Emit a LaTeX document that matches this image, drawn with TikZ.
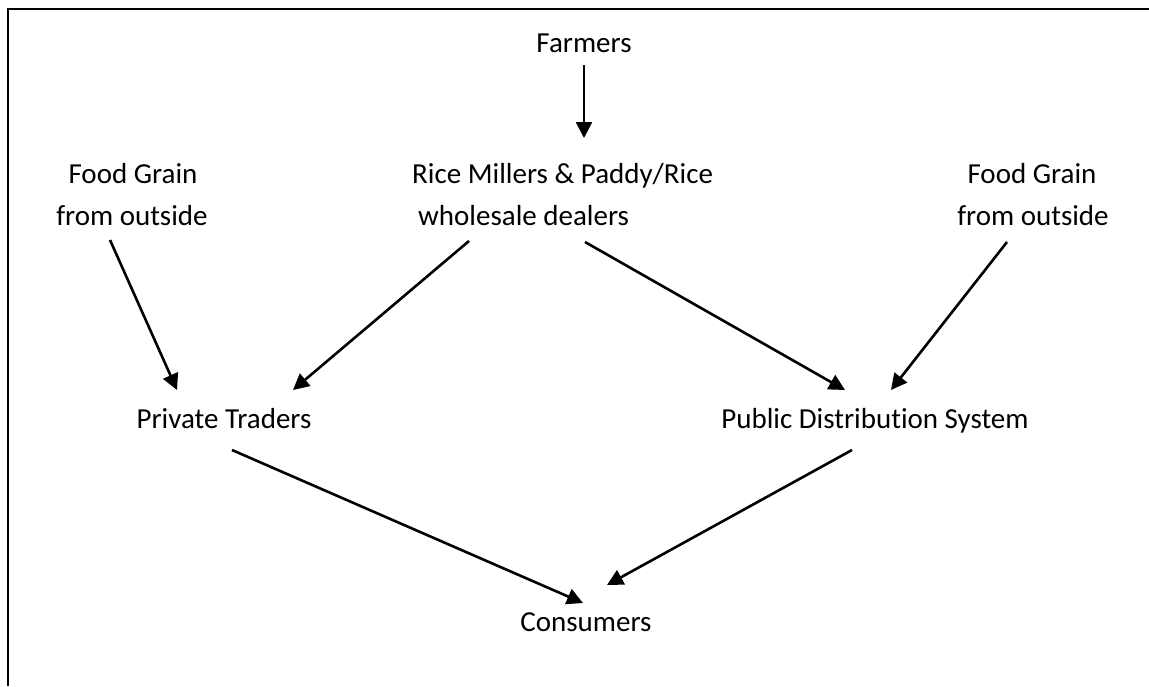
\documentclass[tikz,border=0pt]{standalone}
\usepackage{fontspec}
\setmainfont[Ligatures=NoCommon]{Carlito}
\usetikzlibrary{arrows.meta}
\begin{document}
\begin{tikzpicture}[x=1pt,y=-1pt,
  lbl/.style={inner sep=0pt,anchor=base,font=\fontsize{29}{35}\selectfont},
  flow/.style={line width=2.6pt,-{Triangle[width=16pt,length=16pt]}},
  frame/.style={line width=2.8pt}]
\useasboundingbox (0,0) rectangle (1149,686);
% open frame: top edge and left edge only
\draw[frame] (1149,9) -- (8,9) -- (8,686);

% labels
\node[lbl] (farm) at (584,52) {Farmers};
\node[lbl,anchor=base west] (rice1) at (412,183) {Rice Millers \& Paddy/Rice};
\node[lbl,anchor=base west] (rice2) at (418,225) {wholesale dealers};
\node[lbl] (fgl1) at (133,183) {Food Grain};
\node[lbl] (fgl2) at (132,225) {from outside};
\node[lbl] (fgr1) at (1032,183) {Food Grain};
\node[lbl] (fgr2) at (1033,225) {from outside};
\node[lbl] (pt) at (224,428) {Private Traders};
\node[lbl] (pds) at (875,428) {Public Distribution System};
\node[lbl] (cons) at (586,631) {Consumers};

% arrow end points
\coordinate (farmS) at (584,65);
\coordinate (riceT) at (584,138);
\coordinate (fglS) at (110,240);
\coordinate (riceSL) at (469,241);
\coordinate (riceSR) at (585,242);
\coordinate (fgrS) at (1007,242);
\coordinate (ptT1) at (177,390);
\coordinate (ptT2) at (293,390);
\coordinate (pdsT1) at (845,390);
\coordinate (pdsT2) at (891,390);
\coordinate (ptS) at (232,450);
\coordinate (pdsS) at (852,450);
\coordinate (consT1) at (583,603);
\coordinate (consT2) at (607,585);

% flows
\draw[flow] (farmS) -- (riceT);
\draw[flow] (fglS) -- (ptT1);
\draw[flow] (riceSL) -- (ptT2);
\draw[flow] (riceSR) -- (pdsT1);
\draw[flow] (fgrS) -- (pdsT2);
\draw[flow] (ptS) -- (consT1);
\draw[flow] (pdsS) -- (consT2);
\end{tikzpicture}
\end{document}
